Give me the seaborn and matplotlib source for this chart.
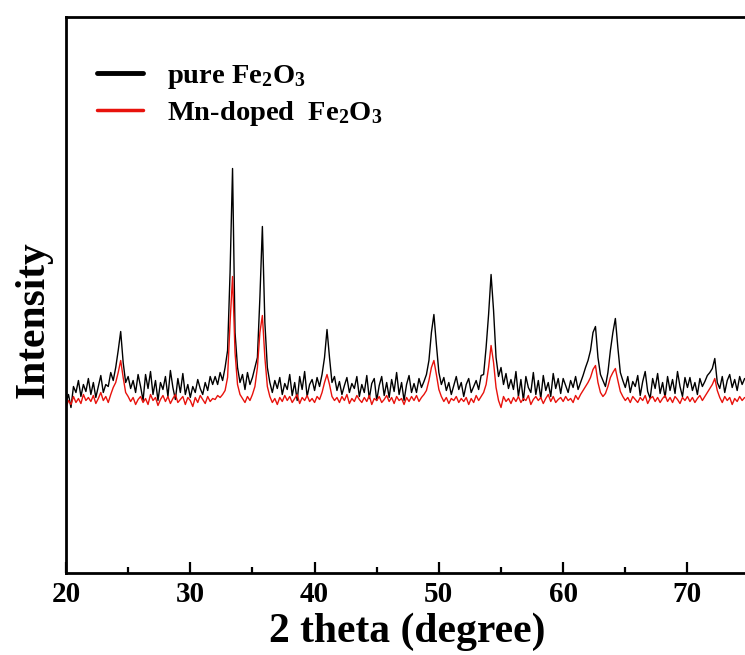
import numpy as np
import pandas as pd
import matplotlib
matplotlib.use("Agg")
import matplotlib.pyplot as plt
import seaborn as sns
from matplotlib.ticker import MultipleLocator

sns.set_style("white")
plt.rcParams["font.family"] = ["Liberation Serif", "DejaVu Serif"]
plt.rcParams["font.weight"] = "bold"
plt.rcParams["text.color"] = "black"
plt.rcParams["axes.labelcolor"] = "black"
plt.rcParams["xtick.color"] = "black"
plt.rcParams["mathtext.fontset"] = "custom"
plt.rcParams["mathtext.rm"] = "Liberation Serif:bold"
plt.rcParams["mathtext.it"] = "Liberation Serif:bold"
plt.rcParams["mathtext.bf"] = "Liberation Serif:bold"

# XRD patterns, 2-theta from 20 to 74.6 deg in 0.2 deg steps
theta_start = 20.0
theta_step = 0.2

pure_fe2o3 = [
    170, 178, 165, 186, 180, 192, 176, 188, 181, 194,
    178, 190, 175, 186, 197, 180, 188, 186, 200, 192,
    205, 222, 241, 210, 190, 196, 184, 192, 180, 198,
    186, 172, 198, 184, 201, 178, 192, 172, 190, 183,
    196, 176, 202, 185, 173, 194, 180, 199, 178, 188,
    175, 186, 180, 193, 184, 178, 190, 182, 196, 188,
    196, 188, 200, 192, 205, 222, 300, 404, 240, 205,
    190, 198, 183, 200, 188, 195, 205, 215, 275, 346,
    250, 205, 190, 180, 192, 184, 195, 178, 189, 183,
    198, 177, 190, 172, 196, 183, 201, 176, 188, 193,
    182, 195, 186, 198, 215, 243, 215, 190, 196, 182,
    191, 178, 187, 195, 180, 189, 184, 196, 176, 188,
    180, 197, 174, 189, 194, 172, 187, 196, 177, 190,
    175, 193, 181, 200, 178, 190, 172, 188, 197, 180,
    189, 180, 194, 185, 191, 198, 212, 240, 258, 228,
    200, 188, 195, 182, 190, 178, 187, 196, 183, 190,
    176, 188, 194, 180, 186, 192, 183, 197, 198, 225,
    258, 298, 262, 215, 196, 205, 188, 199, 184, 193,
    183, 201, 176, 193, 172, 196, 185, 180, 200, 178,
    192, 174, 197, 182, 190, 176, 199, 184, 194, 179,
    194, 187, 180, 192, 185, 196, 183, 190, 197, 205,
    212, 222, 240, 246, 215, 198, 192, 186, 200, 222,
    240, 254, 225, 200, 192, 185, 196, 180, 191, 186,
    197, 177, 191, 201, 181, 174, 194, 184, 199, 179,
    190, 175, 196, 182, 193, 179, 201, 186, 176, 195,
    185, 195, 182, 190, 178, 194, 186, 191, 197, 200,
    204, 214, 190, 184, 196, 180, 192, 198, 185, 193,
    182, 196, 188, 194,
]

mn_doped_fe2o3 = [
    165, 172, 168, 176, 170, 174, 169, 178, 172, 175,
    171, 177, 169, 174, 180, 172, 176, 170, 178, 185,
    190, 200, 212, 195, 180, 176, 171, 175, 168, 173,
    176, 170, 174, 168, 178, 172, 175, 167, 173, 177,
    171, 176, 169, 174, 178, 170, 173, 176, 168, 175,
    172, 166, 175, 170, 177, 173, 169, 176, 171, 174,
    173, 177, 175, 178, 182, 195, 250, 296, 220, 188,
    178, 174, 170, 176, 172, 178, 186, 205, 240, 257,
    215, 186, 176, 170, 174, 168, 175, 171, 177, 172,
    176, 170, 174, 178, 169, 175, 172, 177, 171, 174,
    170, 176, 173, 180, 190, 198, 188, 176, 172, 175,
    170, 176, 172, 178, 169, 174, 171, 177, 173, 170,
    175, 171, 177, 168, 174, 172, 176, 170, 173, 177,
    171, 175, 169, 176, 172, 174, 168, 175, 171, 176,
    172, 177, 171, 175, 178, 182, 192, 205, 212, 198,
    183, 176, 171, 175, 169, 174, 172, 176, 170, 174,
    171, 175, 168, 174, 170, 177, 172, 176, 180, 188,
    205, 227, 210, 185, 172, 165, 176, 171, 174, 169,
    175, 171, 176, 170, 174, 172, 177, 168, 173, 176,
    172, 175, 169, 174, 178, 171, 176, 170, 173, 175,
    171, 176, 172, 174, 170, 177, 173, 178, 182, 186,
    190, 195, 203, 207, 190, 180, 176, 179, 186, 195,
    200, 204, 192, 181, 176, 172, 175, 170, 176, 173,
    170, 175, 172, 177, 169, 174, 176, 171, 175, 170,
    174, 177, 171, 175, 170, 176, 173, 169, 175, 172,
    176, 171, 175, 170, 174, 177, 172, 176, 180, 184,
    188, 194, 182, 175, 170, 176, 172, 175, 168, 174,
    171, 176, 172, 175,
]

labels = ["pure Fe$_2$O$_3$", "Mn-doped  Fe$_2$O$_3$"]
colors = ["black", "#e8120c"]

two_theta = np.round(theta_start + theta_step * np.arange(len(pure_fe2o3)), 1)
df = pd.DataFrame({
    "two_theta": np.concatenate([two_theta, two_theta]),
    "intensity": pure_fe2o3 + mn_doped_fe2o3,
    "sample": [labels[0]] * len(pure_fe2o3) + [labels[1]] * len(mn_doped_fe2o3),
})

fig = plt.figure(figsize=(7.45, 6.55), dpi=100)
ax = fig.add_axes([66 / 745, 82.5 / 655, 679 / 745, 556 / 655])

sns.lineplot(data=df, x="two_theta", y="intensity", hue="sample",
             palette=colors, estimator=None, sort=False, linewidth=1.0, ax=ax)

ax.set_xlim(20, 74.63)
ax.set_ylim(0, 556)
ax.set_yticks([])
ax.xaxis.set_major_locator(MultipleLocator(10))
ax.xaxis.set_minor_locator(MultipleLocator(5))
ax.tick_params(axis="x", which="both", direction="in", bottom=True, top=False,
               width=1.6, labelsize=21, pad=6, colors="black")
ax.tick_params(axis="x", which="major", length=8)
ax.tick_params(axis="x", which="minor", length=4.5)
for lab in ax.get_xticklabels():
    lab.set_fontweight("bold")

for side in ["left", "top", "bottom"]:
    ax.spines[side].set_linewidth(2.0)
    ax.spines[side].set_color("black")
ax.spines["right"].set_visible(False)

ax.set_xlabel("2 theta (degree)", fontsize=30, fontweight="bold")
ax.set_ylabel("Intensity", fontsize=30, fontweight="bold")
ax.xaxis.set_label_coords(0.502, -0.072)
ax.yaxis.set_label_coords(-0.02, 0.454)

leg = ax.legend(loc="upper left", bbox_to_anchor=(0.008, 0.963), frameon=False,
                fontsize=20.5, handlelength=1.6, handletextpad=0.85,
                labelspacing=0.3)
for line, lw in zip(leg.get_lines(), [3.5, 2.5]):
    line.set_linewidth(lw)

fig.savefig("out.png", dpi=100)
